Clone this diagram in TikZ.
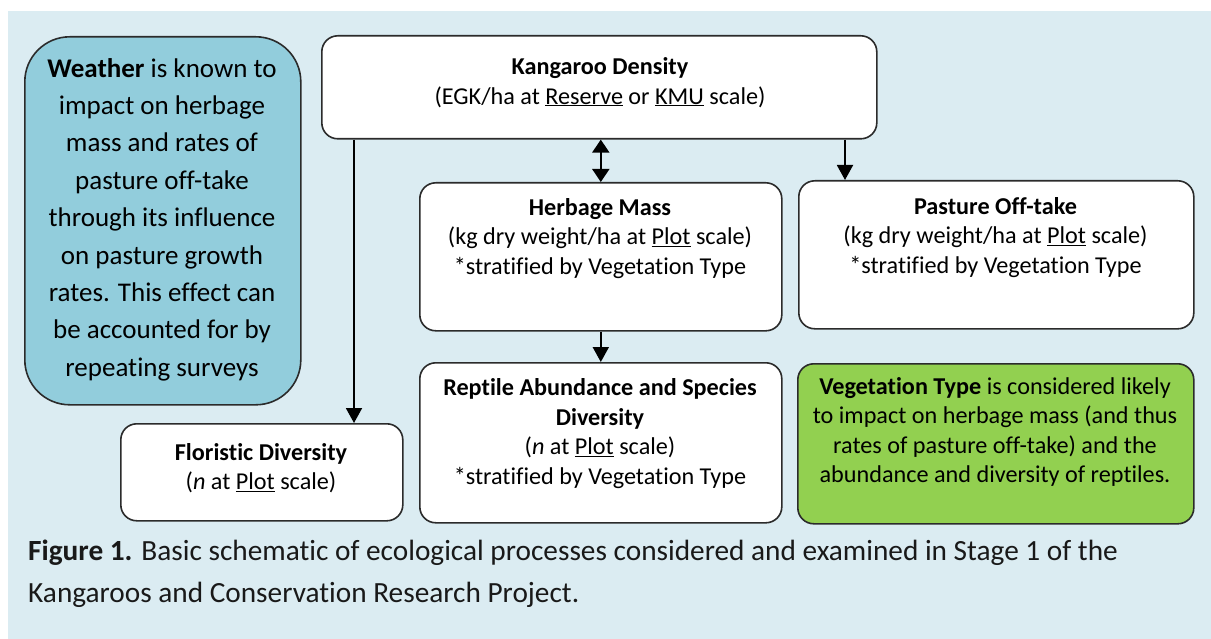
\documentclass[tikz,border=0pt]{standalone}
\usepackage{fontspec}
\setmainfont{Carlito}[RawFeature={-liga;-dlig;-clig}]
\usetikzlibrary{arrows.meta}
\definecolor{pagebg}{HTML}{DBECF2}
\definecolor{weatherfill}{HTML}{92CDDC}
\definecolor{vegfill}{HTML}{92D050}
\definecolor{edgegray}{HTML}{2B2B2B}
\begin{document}
\begin{tikzpicture}[x=1pt,y=-1pt,
  box/.style={draw=edgegray, line width=1.6pt, fill=white, rounded corners=16pt,
              anchor=north west, inner sep=0pt},
  boxtext/.style={align=center, inner sep=0pt, font=\fontsize{24.2}{29.5}\selectfont},
  link/.style={line width=1.9pt, -{Triangle[width=16pt,length=15pt]}},
  twoway/.style={line width=1.9pt, {Triangle[width=17pt,length=13pt]}-{Triangle[width=17pt,length=13pt]}}]
\useasboundingbox (0,0) rectangle (1211,639);
\fill[pagebg] (8,11) rectangle (1211,639);

% boxes
\node[box, fill=weatherfill, rounded corners=45pt, minimum width=276pt, minimum height=368pt] (wx) at (24,36) {};
\node[box, minimum width=555pt, minimum height=103pt] (kd) at (321,35) {};
\node[box, minimum width=362pt, minimum height=148pt] (hm) at (419,182) {};
\node[box, minimum width=395pt, minimum height=148pt] (po) at (798,180) {};
\node[box, minimum width=362pt, minimum height=160pt] (ra) at (419,362) {};
\node[box, fill=vegfill, minimum width=396pt, minimum height=160pt] (vt) at (797,363) {};
\node[box, minimum width=282pt, minimum height=97pt] (fd) at (120,423) {};

% texts
\node[boxtext, font=\fontsize{27}{37.4}\selectfont] (wxt) at (162,219.5)
  {\textbf{Weather} is known to\\impact on herbage\\mass and rates of\\pasture off-take\\through its influence\\on pasture growth\\rates. This effect can\\be accounted for by\\repeating surveys};
\node[boxtext] (kdt) at (600,82.5)
  {\textbf{Kangaroo Density}\\(EGK/ha at \underline{Reserve} or \underline{KMU} scale)};
\node[boxtext] (hmt) at (600,238.5)
  {\textbf{Herbage Mass}\\(kg dry weight/ha at \underline{Plot} scale)\\*stratified by Vegetation Type};
\node[boxtext] (pot) at (995.5,237.5)
  {\textbf{Pasture Off-take}\\(kg dry weight/ha at \underline{Plot} scale)\\*stratified by Vegetation Type};
\node[boxtext] (rat) at (600,433.5)
  {\textbf{Reptile Abundance and Species}\\\textbf{Diversity}\\(\textit{n} at \underline{Plot} scale)\\*stratified by Vegetation Type};
\node[boxtext] (vtt) at (995,432)
  {\textbf{Vegetation Type} is considered likely\\to impact on herbage mass (and thus\\rates of pasture off-take) and the\\abundance and diversity of reptiles.};
\node[boxtext] (fdt) at (261,468)
  {\textbf{Floristic Diversity}\\(\textit{n} at \underline{Plot} scale)};

% caption
\node[align=left, inner sep=0pt, anchor=west, font=\fontsize{29.3}{42}\selectfont, text=black!90] (cap) at (28,574)
  {\textbf{Figure 1.} Basic schematic of ecological processes considered and examined in Stage 1 of the\\Kangaroos and Conservation Research Project.};

% connectors
\coordinate (fdin) at ([xshift=234pt]fd.north west);
\coordinate (poin) at ([xshift=47pt]po.north west);
\draw[link] (kd.south -| fdin) -- (fdin);
\draw[twoway] (kd.south -| hm.north) -- (hm.north);
\draw[link] (kd.south -| poin) -- (poin);
\draw[link] (hm.south) -- (ra.north);
\end{tikzpicture}
\end{document}
